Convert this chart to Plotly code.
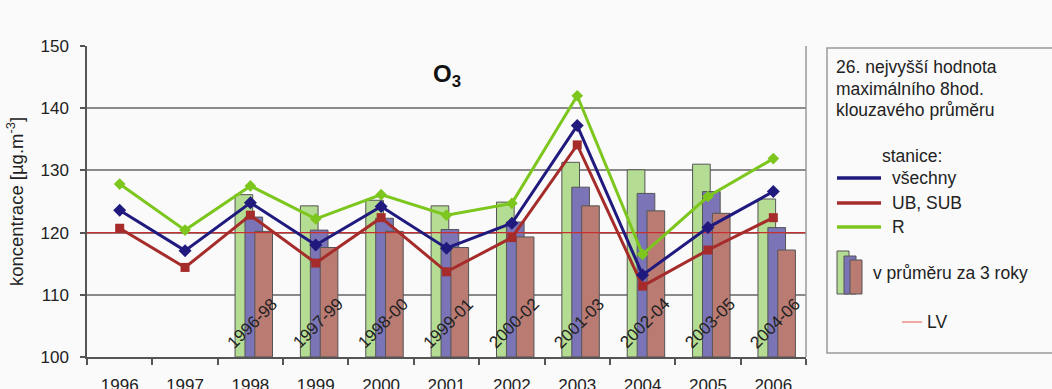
import plotly.graph_objects as go

years = ["1996", "1997", "1998", "1999", "2000", "2001", "2002", "2003", "2004", "2005", "2006"]
periods = ["1996-98", "1997-99", "1998-00", "1999-01", "2000-02", "2001-03", "2002-04", "2003-05", "2004-06"]

# annual values (lines)
vsechny = [123.6, 117.1, 124.8, 118.0, 124.2, 117.5, 121.5, 137.2, 113.2, 120.8, 126.6]
ub_sub = [120.7, 114.4, 122.8, 115.1, 122.4, 113.7, 119.2, 134.1, 111.4, 117.2, 122.4]
r_st = [127.8, 120.4, 127.5, 122.2, 126.1, 122.8, 124.7, 142.0, 116.5, 125.8, 131.9]

# 3-year averages (bars, 1998..2006)
bar_r = [126.1, 124.3, 125.2, 124.3, 124.9, 131.3, 130.1, 131.0, 125.4]
bar_all = [122.5, 120.4, 122.3, 120.5, 121.7, 127.3, 126.3, 126.6, 120.8]
bar_ub = [120.2, 117.6, 120.2, 117.6, 119.3, 124.3, 123.5, 123.1, 117.2]

LV = 120

W, H = 1052, 389
ML, MR, MT, MB = 87, 246, 46, 32
PW, PH = W - ML - MR, H - MT - MB

def px(x):
    return (x - ML) / PW

def py(y):
    return (H - MB - y) / PH

xi = list(range(len(years)))
xb = xi[2:]

C_GREEN_BAR = "#b4dc93"
C_BLUE_BAR = "#7b74b6"
C_RED_BAR = "#ba7b73"
C_GREEN = "#7cc61e"
C_BLUE = "#201a7e"
C_RED = "#a52c2a"
FONT = "Liberation Sans, Arial, sans-serif"
TXT = "#222222"

fig = go.Figure()
bw = 0.27
for vals, col, off in [(bar_r, C_GREEN_BAR, -0.235), (bar_all, C_BLUE_BAR, -0.083), (bar_ub, C_RED_BAR, 0.068)]:
    fig.add_trace(go.Bar(x=xb, y=[v - 100 for v in vals], base=100, width=bw, offset=off,
                         marker=dict(color=col, line=dict(color="#555555", width=1)),
                         showlegend=False, hoverinfo="skip"))

fig.add_trace(go.Scatter(x=[-0.5, 10.5], y=[LV, LV], mode="lines",
                         line=dict(color="#c83030", width=1.2), showlegend=False, hoverinfo="skip"))

fig.add_trace(go.Scatter(x=xi, y=ub_sub, mode="lines+markers", line=dict(color=C_RED, width=3),
                         marker=dict(symbol="square", size=9, color=C_RED), showlegend=False))
fig.add_trace(go.Scatter(x=xi, y=vsechny, mode="lines+markers", line=dict(color=C_BLUE, width=3),
                         marker=dict(symbol="diamond", size=10, color=C_BLUE), showlegend=False))
fig.add_trace(go.Scatter(x=xi, y=r_st, mode="lines+markers", line=dict(color=C_GREEN, width=3),
                         marker=dict(symbol="diamond", size=9, color=C_GREEN), showlegend=False))

annotations = []
for i, p in enumerate(periods):
    annotations.append(dict(x=xb[i] + 0.03, y=105.4, xref="x", yref="y", text=p, showarrow=False,
                            textangle=-45, font=dict(size=17, color=TXT, family=FONT)))

annotations.append(dict(x=5.0, y=145.2, xref="x", yref="y", text="<b>O<sub>3</sub></b>", showarrow=False,
                        font=dict(size=24, color="#111111", family=FONT)))

def txt(x, y, t):
    annotations.append(dict(x=px(x), y=py(y), xref="paper", yref="paper", text=t, showarrow=False,
                            xanchor="left", yanchor="middle", font=dict(size=17.5, color=TXT, family=FONT)))

txt(834, 67, "26. nejvyšší hodnota")
txt(834, 89, "maximálního 8hod.")
txt(834, 110, "klouzavého průměru")
txt(880, 156, "stanice:")
txt(890, 178, "všechny")
txt(890, 203, "UB, SUB")
txt(890, 227, "R")
txt(871, 273, "v průměru za 3 roky")
txt(925, 322, "LV")

shapes = []
shapes.append(dict(type="rect", xref="paper", yref="paper", x0=px(827), x1=px(1075), y0=py(353), y1=py(48),
                   line=dict(color="#9a9a9a", width=1.5), fillcolor="rgba(0,0,0,0)", layer="below"))
for yy, col in [(178, C_BLUE), (203, C_RED), (227, C_GREEN)]:
    shapes.append(dict(type="line", xref="paper", yref="paper", x0=px(837), x1=px(881), y0=py(yy), y1=py(yy),
                       line=dict(color=col, width=3.5)))
for x0, x1, top, col in [(837, 849, 251, C_GREEN_BAR), (844, 856, 256, C_BLUE_BAR), (850, 862, 260, C_RED_BAR)]:
    shapes.append(dict(type="rect", xref="paper", yref="paper", x0=px(x0), x1=px(x1), y0=py(294), y1=py(top),
                       line=dict(color="#555555", width=1), fillcolor=col))
shapes.append(dict(type="line", xref="paper", yref="paper", x0=px(902), x1=px(922), y0=py(322), y1=py(322),
                   line=dict(color="#f08a8a", width=1.5)))
shapes.append(dict(type="line", xref="paper", yref="paper", x0=1, x1=1, y0=0, y1=1,
                   line=dict(color="#9a9a9a", width=1.5)))

fig.update_layout(
    width=W, height=H,
    margin=dict(l=ML, r=MR, t=MT, b=MB, pad=0),
    paper_bgcolor="#fafafa", plot_bgcolor="#fafafa",
    barmode="overlay",
    showlegend=False,
    font=dict(family=FONT, size=17, color=TXT),
    annotations=annotations,
    shapes=shapes,
    xaxis=dict(range=[-0.5, 10.5], tickmode="array", tickvals=xi, ticktext=years, ticks="",
               showgrid=False, showline=True, linecolor="#555555", linewidth=1.5, automargin=False,
               tickfont=dict(size=17, color=TXT), zeroline=False, ticklabelstandoff=12,
               minor=dict(tick0=0.5, dtick=1, ticks="outside", ticklen=6, tickcolor="#555555",
                          tickwidth=1.5, showgrid=False)),
    yaxis=dict(range=[100, 150], tickvals=[100, 110, 120, 130, 140, 150], ticks="outside", ticklen=5,
               tickcolor="#555555", tickwidth=1.5, automargin=False,
               showgrid=True, gridcolor="#8a8a8a", gridwidth=1.5,
               showline=True, linecolor="#555555", linewidth=1.5, zeroline=False,
               tickfont=dict(size=17, color=TXT), ticklabelstandoff=8,
               title=dict(text="koncentrace [µg.m<sup>-3</sup>]", font=dict(size=18.5, color=TXT), standoff=12)),
)

fig.write_html("out.html")
